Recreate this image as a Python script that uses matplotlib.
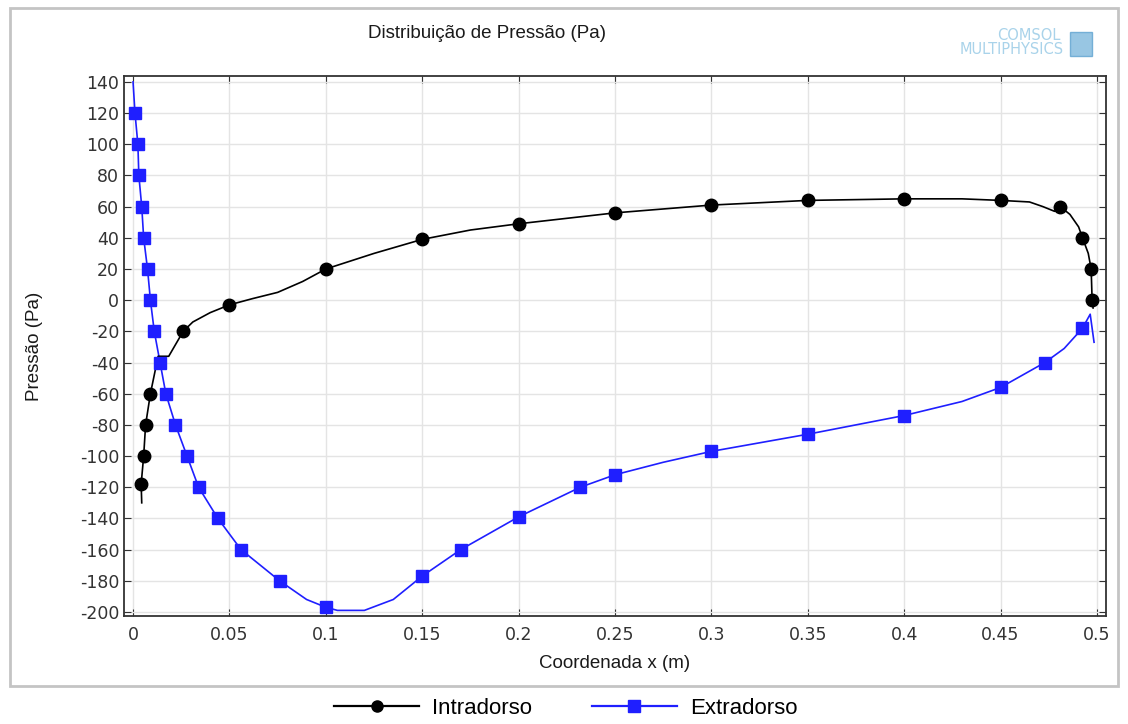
import matplotlib
matplotlib.use("Agg")
import matplotlib.pyplot as plt
from matplotlib.patches import Rectangle
from matplotlib.lines import Line2D

plt.rcParams["axes.unicode_minus"] = False

# Intradorso (lower surface) - curve and marker points
intra_x = [0.0045, 0.0042, 0.0055, 0.0065, 0.009, 0.013, 0.0185, 0.026, 0.031,
           0.04, 0.05, 0.062, 0.075, 0.088, 0.1, 0.125, 0.15, 0.175, 0.2, 0.25,
           0.3, 0.35, 0.4, 0.43, 0.45, 0.465, 0.472, 0.478, 0.481, 0.486, 0.4905,
           0.4925, 0.4955, 0.497, 0.4975, 0.498]
intra_y = [-130, -118, -100, -80, -60, -36, -36, -20, -14, -8, -3, 1, 5, 12, 20,
           30, 39, 45, 49, 56, 61, 64, 65, 65, 64, 63, 60, 57, 60, 55, 47, 40,
           30, 20, 0, -5]
intra_mx = [0.0042, 0.0055, 0.0065, 0.009, 0.026, 0.05, 0.1, 0.15, 0.2, 0.25,
            0.3, 0.35, 0.4, 0.45, 0.481, 0.4925, 0.497, 0.4975]
intra_my = [-118, -100, -80, -60, -20, -3, 20, 39, 49, 56, 61, 64, 65, 64, 60,
            40, 20, 0]

# Extradorso (upper surface) - curve and marker points
extra_x = [0.0, 0.001, 0.0025, 0.003, 0.0045, 0.0055, 0.0075, 0.009, 0.011,
           0.014, 0.017, 0.022, 0.028, 0.034, 0.044, 0.056, 0.076, 0.09, 0.1,
           0.106, 0.12, 0.135, 0.15, 0.17, 0.2, 0.232, 0.25, 0.275, 0.3, 0.35,
           0.4, 0.43, 0.45, 0.473, 0.483, 0.4925, 0.4965, 0.4985]
extra_y = [140, 120, 100, 80, 60, 40, 20, 0, -20, -40, -60, -80, -100, -120,
           -140, -160, -180, -192, -197, -199, -199, -192, -177, -160, -139,
           -120, -112, -104, -97, -86, -74, -65, -56, -40, -31, -18, -9, -27]
extra_mx = [0.001, 0.0025, 0.003, 0.0045, 0.0055, 0.0075, 0.009, 0.011, 0.014,
            0.017, 0.022, 0.028, 0.034, 0.044, 0.056, 0.076, 0.1, 0.15, 0.17,
            0.2, 0.232, 0.25, 0.3, 0.35, 0.4, 0.45, 0.473, 0.4925]
extra_my = [120, 100, 80, 60, 40, 20, 0, -20, -40, -60, -80, -100, -120, -140,
            -160, -180, -197, -177, -160, -139, -120, -112, -97, -86, -74, -56,
            -40, -18]

x_ticks = [0, 0.05, 0.1, 0.15, 0.2, 0.25, 0.3, 0.35, 0.4, 0.45, 0.5]
x_labels = ["0", "0.05", "0.1", "0.15", "0.2", "0.25", "0.3", "0.35", "0.4", "0.45", "0.5"]
y_ticks = list(range(-200, 141, 20))

txt = "#1a1a1a"
blue = "#1f1fff"

fig = plt.figure(figsize=(11.28, 7.24), dpi=100)
fig.patch.set_facecolor("white")

# outer panel frame
fig.patches.append(Rectangle((10 / 1128, 1 - 686 / 724), 1108 / 1128, 678 / 724,
                             transform=fig.transFigure, fill=False,
                             edgecolor="#c4c4c4", linewidth=2.0))

ax = fig.add_axes([124 / 1128, 1 - 616 / 724, 982 / 1128, 540 / 724])

ax.plot(extra_x, extra_y, color=blue, lw=1.2, zorder=3)
ax.plot(extra_mx, extra_my, ls="none", marker="s", ms=9, color=blue, zorder=4)
ax.plot(intra_x, intra_y, color="black", lw=1.2, zorder=3)
ax.plot(intra_mx, intra_my, ls="none", marker="o", ms=9, color="black", zorder=4)

ax.set_xlim(-0.0047, 0.5047)
ax.set_ylim(-202.6, 143.8)
ax.set_xticks(x_ticks)
ax.set_xticklabels(x_labels)
ax.set_yticks(y_ticks)
ax.grid(True, color="#e4e4e4", lw=1)
ax.set_axisbelow(True)
ax.tick_params(direction="in", length=5, top=True, right=True,
               labelsize=12.5, labelcolor="#333333", color="#333333")
ax.tick_params(axis="x", pad=7)
for s in ax.spines.values():
    s.set_color("#333333")
    s.set_linewidth(1.3)

ax.set_xlabel("Coordenada x (m)", family="Liberation Sans", fontsize=13.5,
              color=txt)
ax.set_ylabel("Pressão (Pa)", family="Liberation Sans", fontsize=13.5,
              color=txt)
ax.xaxis.set_label_coords(0.5, -0.072)
ax.yaxis.set_label_coords(-0.082, 0.5)

fig.text(487 / 1128, 1 - 33 / 724, "Distribuição de Pressão (Pa)",
         family="Liberation Sans", fontsize=13.5, color=txt,
         ha="center", va="center")

# COMSOL logo text
fig.text(1060 / 1128, 1 - 36 / 724, "COMSOL", family="DejaVu Sans",
         fontsize=10.5, color="#a9d3ea", ha="right", va="center")
fig.text(1064 / 1128, 1 - 50 / 724, "MULTIPHYSICS", family="DejaVu Sans",
         fontsize=10.5, color="#a9d3ea", ha="right", va="center")
fig.patches.append(Rectangle((1070 / 1128, 1 - 56 / 724), 22 / 1128, 24 / 724,
                             transform=fig.transFigure, facecolor="#7fb8dd",
                             edgecolor="#5fa3d0", alpha=0.8))

handles = [Line2D([], [], color="black", marker="o", ms=8, lw=1.6),
           Line2D([], [], color=blue, marker="s", ms=8, lw=1.6)]
fig.legend(handles, ["Intradorso", "Extradorso"], loc="center",
           bbox_to_anchor=(566 / 1128, 1 - 708 / 724), ncol=2, frameon=False,
           prop={"family": "Liberation Sans", "size": 16}, handlelength=3.8,
           columnspacing=2.7, handletextpad=0.6)

fig.savefig("out.png", dpi=100)
